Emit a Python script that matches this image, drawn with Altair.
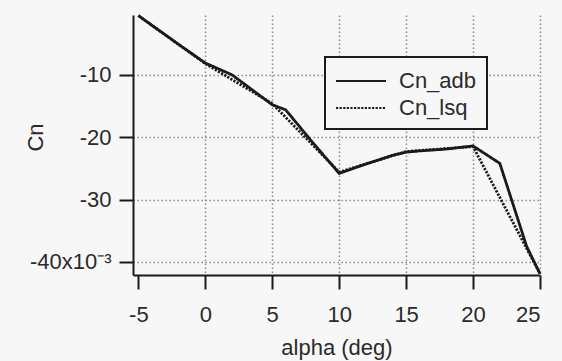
import altair as alt
import pandas as pd

# Data (Cn in units of 1e-3)
alpha_adb = [-5, -2, 0, 2, 4, 5, 6, 8, 10, 12, 14, 15, 16, 18, 20, 22, 24, 25]
cn_adb = [-0.5, -5.1, -8.1, -10.0, -13.2, -14.8, -15.6, -20.8, -25.8, -24.3,
          -22.9, -22.4, -22.2, -21.9, -21.4, -24.2, -37.5, -41.9]
alpha_lsq = [-5, 0, 5, 10, 15, 20, 25]
cn_lsq = [-0.5, -8.2, -14.6, -25.6, -22.3, -21.5, -41.9]

series_names = ["Cn_adb", "Cn_lsq"]
x_ticks = [-5, 0, 5, 10, 15, 20, 25]
y_ticks = [-40, -30, -20, -10]

df = pd.concat([
    pd.DataFrame({"alpha": alpha_adb, "cn": cn_adb, "series": series_names[0]}),
    pd.DataFrame({"alpha": alpha_lsq, "cn": cn_lsq, "series": series_names[1]}),
])

BG = "#f7f7f7"
TXT = "#2a2a2a"
INK = "#1a1a1a"
FONT = "Liberation Sans"

chart = alt.Chart(df).mark_line(strokeWidth=2.8, color=INK).encode(
    x=alt.X("alpha:Q",
            scale=alt.Scale(domain=[-5.4, 25], nice=False, zero=False),
            axis=alt.Axis(values=x_ticks, title="alpha (deg)",
                          labelExpr="'' + datum.value",
                          gridOpacity={"condition": {"test": "datum.value == -5", "value": 0}, "value": 1},
                          labelPadding=15, titlePadding=12)),
    y=alt.Y("cn:Q",
            scale=alt.Scale(domain=[-42.1, -0.4], nice=False, zero=False),
            axis=alt.Axis(values=y_ticks, title="Cn",
                          labelExpr="datum.value == -40 ? '-40x10⁻³' : '' + datum.value",
                          labelPadding=8,
                          titleX=-98, titleY=122, titleAlign="center",
                          titleBaseline="middle", titleAngle=-90)),
    strokeDash=alt.StrokeDash("series:N",
                              scale=alt.Scale(domain=series_names, range=[[1, 0], [2.2, 1.4]]),
                              legend=alt.Legend(orient="none", legendX=192, legendY=42,
                                                title=None, symbolType="M-2,0H2",
                                                symbolSize=625, symbolOffset=12,
                                                symbolStrokeWidth=2.2,
                                                symbolStrokeColor=INK,
                                                symbolFillColor="transparent",
                                                labelFontSize=22, labelFont=FONT,
                                                labelColor=TXT, labelOffset=24,
                                                rowPadding=2, padding=10,
                                                strokeColor=INK,
                                                fillColor=BG)),
).properties(
    width=407,
    height=260,
    autosize=alt.AutoSizeParams(type="none"),
    padding={"left": 133, "top": 15, "right": 22, "bottom": 86},
    background=BG,
).configure_view(
    stroke=None
).configure_axis(
    domainColor=INK, domainWidth=2,
    tickColor=INK, tickWidth=2, tickSize=14,
    labelFont=FONT, labelFontSize=22, labelColor=TXT,
    titleFont=FONT, titleFontSize=22, titleColor=TXT, titleFontWeight="normal",
    grid=True, gridColor="#8a8a8a", gridDash=[1.5, 2.5], gridWidth=1.5,
).configure_legend(
    strokeWidth=2
)

chart.save("out.html", embed_options={"renderer": "svg", "actions": False})
